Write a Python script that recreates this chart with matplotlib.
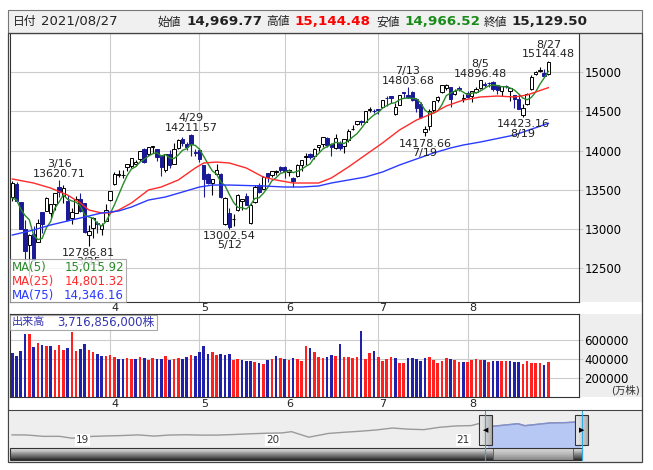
import numpy as np
import pandas as pd
import matplotlib
matplotlib.use("Agg")
import matplotlib.pyplot as plt
import matplotlib.dates as mdates
from matplotlib.patches import Rectangle

plt.rcParams['font.family'] = ['DejaVu Sans', 'Noto Sans CJK JP']

# ---- 日足データ (2021/03/01 - 2021/08/27) ----
dates = pd.bdate_range('2021-03-01', '2021-08-27')
dates = dates.drop(pd.to_datetime(['2021-04-02', '2021-05-31', '2021-07-05']))

opens = [13406, 13578, 13350, 13000, 12795, 12935, 12836, 13220, 13233, 13200, 13313, 13533,
         13420, 13362, 13144, 13205, 13388, 13326, 12920, 13008, 13076, 13002, 13104,
         13375, 13578, 13690, 13687, 13794, 13800, 13834, 13890, 14018, 13960, 14048, 14014,
         13928, 13752, 13951, 13834, 14034, 14150, 14089, 14195, 13983,
         14001, 13815, 13697, 13583, 13698, 13707, 13061, 13208, 13122, 13238, 13358, 13422,
         13075, 13344, 13563, 13511, 13715, 13682, 13723, 13787,
         13792, 13728, 13649, 13671, 13814, 13917, 13953, 13928, 14040, 14086, 14164, 14086,
         14034, 14098, 14056, 14133, 14271, 14332, 14382, 14367, 14515, 14505,
         14523, 14550, 14666, 14696, 14462, 14584, 14739, 14705, 14740, 14654, 14592, 14242,
         14318, 14512, 14646, 14742, 14793, 14812, 14714, 14796, 14657,
         14730, 14697, 14745, 14792, 14850, 14866, 14878, 14833, 14755, 14828, 14757, 14703,
         14653, 14456, 14587, 14783, 14972, 15008, 14992, 14969.77]
highs = [13609, 13599, 13350, 13119, 12941, 13036, 13128, 13220, 13410, 13323, 13460, 13620.71,
         13565, 13428, 13272, 13424, 13460, 13326, 13057, 13149, 13106, 13080, 13321,
         13489, 13721, 13752, 13751, 13830, 13901, 13885, 14000, 14034, 14041, 14062, 14025,
         13931, 13952, 14001, 14094, 14145, 14168, 14112, 14211.57, 14023,
         14029, 13815, 13717, 13641, 13828, 13718, 13412, 13264, 13192, 13446, 13379, 13460,
         13328, 13560, 13582, 13681, 13716, 13741, 13748, 13798,
         13802, 13767, 13668, 13832, 13882, 13962, 13966, 14031, 14069, 14175, 14170, 14091,
         14204, 14126, 14142, 14270, 14319, 14381, 14392, 14505, 14556, 14535,
         14533, 14646, 14700, 14698, 14605, 14707, 14744, 14803.68, 14754, 14657, 14615, 14316,
         14534, 14632, 14694, 14837, 14844, 14812, 14788, 14828, 14715,
         14756, 14762, 14810, 14896.48, 14873, 14876, 14886, 14834, 14824, 14835, 14794, 14703,
         14717, 14597, 14729, 14966, 15019, 15058, 15035, 15144.48]
lows = [13363, 13346, 12995, 12605, 12397, 12606, 12836, 12952, 13233, 13138, 13247, 13409,
        13330, 13113, 13065, 13202, 13211, 12953, 12786.81, 12889, 12945, 12922, 13104,
        13355, 13558, 13661, 13645, 13735, 13774, 13808, 13871, 13839, 13929, 13965, 13866,
        13680, 13723, 13774, 13824, 14016, 14055, 14003, 13924, 13936,
        13856, 13413, 13569, 13430, 13698, 13401, 13051, 13002.54, 13036, 13235, 13242, 13303,
        13070, 13330, 13462, 13507, 13605, 13661, 13684, 13731,
        13654, 13680, 13530, 13664, 13741, 13815, 13897, 13888, 13998, 14041, 14046, 13925,
        14017, 14010, 13970, 14114, 14255, 14324, 14323, 14365, 14489, 14484,
        14465, 14542, 14573, 14608, 14451, 14584, 14666, 14665, 14626, 14493, 14419, 14178.66,
        14266, 14490, 14613, 14727, 14766, 14551, 14701, 14759, 14622,
        14664, 14613, 14735, 14781, 14803, 14811, 14752, 14717, 14692, 14790, 14630, 14543,
        14524, 14423.16, 14577, 14774, 14962, 14995, 14942, 14966.52]
closes = [13588.83, 13358.79, 12997.75, 12723.47, 12920.15, 12609.16, 13073.82, 13068.83,
          13398.67, 13319.86, 13459.71, 13471.57, 13525.20, 13116.17, 13215.24, 13377.54,
          13227.70, 12961.89, 12977.68, 13138.73, 13059.65, 13045.39, 13246.87,
          13480.11, 13705.59, 13698.38, 13688.84, 13829.31, 13900.19, 13850.00, 13996.10,
          13857.84, 14038.76, 14052.34, 13914.77, 13786.27, 13950.22, 13818.41, 14016.81,
          14138.78, 14090.22, 14051.03, 14082.55, 13962.68,
          13895.12, 13633.50, 13582.42, 13632.84, 13752.24, 13401.86, 13389.43, 13031.68,
          13124.99, 13429.98, 13379.05, 13303.64, 13299.74, 13535.74, 13470.99, 13661.17,
          13657.17, 13738.00, 13736.28, 13748.74,
          13736.48, 13756.33, 13614.51, 13814.49, 13881.72, 13924.98, 13911.75, 14020.33,
          14069.42, 14174.14, 14072.86, 14039.68, 14161.35, 14030.38, 14141.48, 14253.27,
          14271.73, 14369.71, 14360.39, 14500.51, 14528.33, 14503.95,
          14522.38, 14639.33, 14663.64, 14665.06, 14559.79, 14701.92, 14733.24, 14677.65,
          14644.95, 14543.13, 14427.24, 14274.98, 14498.88, 14631.95, 14684.60, 14836.99,
          14840.71, 14660.58, 14762.58, 14778.26, 14672.68,
          14681.07, 14761.30, 14780.53, 14895.12, 14835.76, 14860.18, 14788.09, 14765.14,
          14816.26, 14822.90, 14793.76, 14656.18, 14525.91, 14541.79, 14714.66, 14942.65,
          14996.39, 15019.80, 14945.81, 15129.50]
# MA(5) 計算用の2月末終値
feb_closes = [13465.20, 13597.97, 13119.43, 13192.35]

# 出来高 (万株)
volumes = [460000, 435000, 484000, 663000, 663000, 526000, 568000, 547000, 537000, 537000,
           495000, 547000, 495000, 516000, 684000, 484000, 505000, 558000, 495000, 474000,
           453000, 435000, 432000,
           440000, 420000, 395000, 400000, 410000, 395000, 405000, 420000, 415000, 390000,
           415000, 400000, 400000, 430000, 390000, 400000, 410000, 405000, 425000, 440000, 430000,
           470000, 537000, 455000, 470000, 440000, 450000, 445000, 455000, 390000, 395000,
           390000, 380000, 380000, 365000, 355000, 350000, 385000, 400000, 430000, 410000,
           400000, 390000, 410000, 400000, 380000, 540000, 520000, 470000, 420000, 410000,
           420000, 440000, 430000, 558000, 420000, 420000, 410000, 420000, 695000, 400000,
           460000, 480000,
           420000, 380000, 400000, 420000, 410000, 360000, 360000, 410000, 410000, 400000,
           380000, 410000, 420000, 390000, 360000, 380000, 410000, 400000, 390000, 370000, 370000,
           370000, 390000, 400000, 390000, 390000, 370000, 380000, 380000, 380000, 380000,
           380000, 370000, 370000, 350000, 380000, 360000, 360000, 360000, 335000, 371685.6]
last_volume_shares = 3716856000

# 移動平均線 (チャートから読み取り)
ma25_days = ['03-01', '03-08', '03-12', '03-18', '03-23', '03-25', '03-30', '04-01', '04-06',
             '04-09', '04-15', '04-20', '04-26', '04-30', '05-04', '05-07', '05-12', '05-18',
             '05-24', '05-27', '06-03', '06-08', '06-11', '06-16', '06-22', '06-28', '07-02',
             '07-09', '07-15', '07-21', '07-26', '07-30', '08-05', '08-11', '08-17', '08-20', '08-27']
ma25_vals = [13637, 13586, 13522, 13433, 13331, 13242, 13204, 13204, 13242, 13331, 13497, 13535,
             13624, 13777, 13841, 13853, 13841, 13777, 13662, 13624, 13586, 13586, 13586, 13650,
             13790, 13943, 14095, 14261, 14388, 14478, 14567, 14643, 14682, 14694, 14682, 14707, 14801]
ma75_days = ['03-01', '03-08', '03-12', '03-18', '03-24', '03-30', '04-06', '04-09', '04-15',
             '04-21', '04-27', '05-03', '05-06', '05-12', '05-24', '06-01', '06-07', '06-11',
             '06-16', '06-22', '06-28', '07-02', '07-09', '07-15', '07-21', '07-27', '07-30',
             '08-05', '08-17', '08-27']
ma75_vals = [12923, 12987, 13051, 13102, 13153, 13204, 13229, 13280, 13369, 13408, 13471, 13535,
             13560, 13560, 13548, 13535, 13535, 13548, 13586, 13624, 13662, 13726, 13815, 13892,
             13968, 14032, 14070, 14108, 14197, 14346]
# 凡例の表示値
ma_names = ['MA(5)', 'MA(25)', 'MA(75)']
ma_legend = [15015.92, 14801.32, 14346.16]

# 高値・安値ラベル
ann_days = ['03-16', '03-25', '04-29', '05-12', '07-13', '07-19', '08-05', '08-19', '08-27']
ann_kind = ['high', 'low', 'high', 'low', 'high', 'low', 'high', 'low', 'high']

# ナビゲーター (月次)
nav_dates = ['2018-08-31', '2018-09-28', '2018-10-31', '2018-11-30', '2018-12-24', '2019-01-31',
             '2019-02-28', '2019-03-29', '2019-04-30', '2019-05-31', '2019-06-28', '2019-07-31',
             '2019-08-30', '2019-09-30', '2019-10-31', '2019-11-29', '2019-12-31', '2020-01-31',
             '2020-02-19', '2020-03-23', '2020-04-30', '2020-05-29', '2020-06-30', '2020-07-31',
             '2020-08-31', '2020-09-30', '2020-10-30', '2020-11-30', '2020-12-31', '2021-01-29',
             '2021-02-12', '2021-03-08', '2021-04-29', '2021-05-12', '2021-06-30', '2021-07-30',
             '2021-08-27']
nav_vals = [8110, 8046, 7305, 7331, 6333, 7281, 7533, 7729, 8095, 7453, 8006, 8175, 7963, 7999,
            8292, 8665, 8972, 9150, 9817, 6860, 8889, 9489, 10058, 10745, 11775, 11167, 10911,
            12198, 12888, 13070, 14095, 12609, 14082, 13031, 14503, 14672, 15129]

price_ticks = [12500, 13000, 13500, 14000, 14500, 15000]
vol_ticks = [200000, 400000, 600000]
month_labels = ['4', '5', '6', '7', '8']

W, H = 653, 470
fig = plt.figure(figsize=(W / 100, H / 100), dpi=100)


def px_axes(x0, y0, x1, y1, **kw):
    return fig.add_axes([x0 / W, 1 - y1 / H, (x1 - x0) / W, (y1 - y0) / H], **kw)


bg = px_axes(0, 0, W, H, zorder=0)
bg.set_xlim(0, W)
bg.set_ylim(H, 0)
bg.axis('off')
ov = px_axes(0, 0, W, H, zorder=10)
ov.axis('off')

GRID = '#cccccc'
DOWN = '#1a1a96'
n = len(dates)
x = np.arange(n)
o, h, l, c = map(np.array, (opens, highs, lows, closes))
day_idx = {d.strftime('%m-%d'): i for i, d in enumerate(dates)}
month_pos = [i for i in range(1, n) if dates[i].month != dates[i - 1].month]

# 右側の灰色領域
bg.add_patch(Rectangle((579, 33), 63, 269, facecolor='#eeeeee', edgecolor='none'))
bg.add_patch(Rectangle((579, 314), 63, 83, facecolor='#eeeeee', edgecolor='none'))
bg.add_patch(Rectangle((10, 410), 632, 52, facecolor='#eeeeee', edgecolor='none'))

# ---- ローソク足 ----
ax = px_axes(10, 33, 579, 302, zorder=2)
ax.set_xlim(-0.54, 133.2)
ax.set_ylim(12070, 15497)
for t in price_ticks:
    ax.axhline(t, color=GRID, lw=0.8, zorder=0)
for m in month_pos:
    ax.axvline(m, color=GRID, lw=0.8, zorder=0)

up = c >= o
ax.vlines(x[up], l[up], h[up], color='black', lw=0.8, zorder=3)
ax.vlines(x[~up], l[~up], h[~up], color=DOWN, lw=0.8, zorder=3)
ax.bar(x[up], (c - o)[up], bottom=o[up], width=0.8, facecolor='white',
       edgecolor='black', lw=0.7, zorder=4)
ax.bar(x[~up], (o - c)[~up], bottom=c[~up], width=0.8, facecolor=DOWN,
       edgecolor=DOWN, lw=0.7, zorder=4)

ma5 = pd.Series(feb_closes + closes).rolling(5).mean().values[len(feb_closes):]
ma_cols = ['#2a8a2a', '#ff2a2a', '#2a3aff']
ax.plot(x, ma5, color=ma_cols[0], lw=1.0, zorder=5)
ax.plot([day_idx[d] for d in ma25_days], ma25_vals, color=ma_cols[1], lw=1.0, zorder=5)
ax.plot([day_idx[d] for d in ma75_days], ma75_vals, color=ma_cols[2], lw=1.0, zorder=5)

for d, k in zip(ann_days, ann_kind):
    i = day_idx[d]
    lab = '%d/%d' % (dates[i].month, dates[i].day)
    if k == 'high':
        ax.annotate('%s\n%.2f' % (lab, h[i]), (i, h[i]), xytext=(0, 1), textcoords='offset points',
                    ha='center', va='bottom', fontsize=8, linespacing=0.95, color='#222222', zorder=6)
    else:
        ax.annotate('%.2f\n%s' % (l[i], lab), (i, l[i]), xytext=(0, -1.5), textcoords='offset points',
                    ha='center', va='top', fontsize=8, linespacing=0.95, color='#222222', zorder=6)

ax.yaxis.tick_right()
ax.set_yticks(price_ticks)
ax.set_yticklabels([str(t) for t in price_ticks])
ax.tick_params(axis='y', length=3, width=0.8, color=GRID, pad=1, labelsize=8.5)
ax.set_xticks([])
for s in ax.spines.values():
    s.set_color('#333333')
    s.set_linewidth(0.8)

# ---- 出来高 ----
vax = px_axes(10, 314, 579, 397, zorder=2)
vax.set_xlim(-0.54, 133.2)
vax.set_ylim(0, 873700)
for t in vol_ticks:
    vax.axhline(t, color=GRID, lw=0.8, zorder=0)
for m in month_pos:
    vax.axvline(m, color=GRID, lw=0.8, zorder=0)
prev = np.concatenate([[np.inf], c[:-1]])
vcol = np.where(c > prev, '#ff2020', '#2020aa')
vax.bar(x, volumes, width=0.62, color=vcol, zorder=3)
vax.yaxis.tick_right()
vax.set_yticks(vol_ticks)
vax.set_yticklabels([str(t) for t in vol_ticks])
vax.tick_params(axis='y', length=3, width=0.8, color=GRID, pad=1, labelsize=8.5)
vax.set_xticks([])
for s in vax.spines.values():
    s.set_color('#333333')
    s.set_linewidth(0.8)
ov.text(640, 390, '(万株)', ha='right', va='center', fontsize=7.5, color='#333333')

# 月ラベル
for a, dy in ((ax, -4.6), (vax, -5.0)):
    for m, lab in zip(month_pos, month_labels):
        a.annotate(lab, (m, 0), xycoords=('data', 'axes fraction'), xytext=(1, dy),
                   textcoords='offset points', ha='left', va='center', fontsize=8,
                   color='#222222', annotation_clip=False)

# ---- ナビゲーター ----
nax = px_axes(10, 410, 582, 448, zorder=2)
nd = mdates.date2num(pd.to_datetime(nav_dates))
nv = np.array(nav_vals)
nax.set_xlim(mdates.date2num(pd.Timestamp('2018-08-27')), mdates.date2num(pd.Timestamp('2021-08-30')))
nax.set_ylim(1070, 21440)
nax.set_facecolor('#eeeeee')
sel_start = mdates.date2num(dates[0])
sel = nd >= sel_start
sx = np.concatenate([[sel_start], nd[sel]])
sy = np.concatenate([[np.interp(sel_start, nd, nv)], nv[sel]])
nax.fill_between(sx, sy, 1070, color='#b8c8f5', lw=0)
nax.plot(nd, nv, color='#9a9a9a', lw=1.0)
nax.plot(sx, sy, color='#8090d0', lw=1.0)
for yr in ['2019', '2020', '2021']:
    nax.text(mdates.date2num(pd.Timestamp(yr + '-01-01')), 5200, yr[2:], fontsize=7.5, ha='left',
             va='center', color='#333333',
             bbox=dict(facecolor='white', edgecolor='none', pad=0.6))
nax.set_xticks([])
nax.set_yticks([])
for s in nax.spines.values():
    s.set_visible(False)

# スクロールバー
grad = np.linspace(0, 1, 20).reshape(-1, 1)
ov.imshow(grad, extent=(10, 582, 460, 448), cmap='Greys', vmin=-0.3, vmax=1.2, aspect='auto')
ov.imshow(grad, extent=(493, 573, 460, 448), cmap='Greys', vmin=-0.8, vmax=2.5, aspect='auto')
ov.add_patch(Rectangle((493, 448), 80, 12, facecolor='none', edgecolor='#555555', lw=0.6))
ov.add_patch(Rectangle((10, 448), 572, 12, facecolor='none', edgecolor='#333333', lw=0.8))

# ハンドル
for hx, mark in ((479, '◀'), (575, '▶')):
    ov.imshow(grad.T, extent=(hx, hx + 13, 445, 415), cmap='Greys', vmin=-0.5, vmax=3.0, aspect='auto')
    ov.add_patch(Rectangle((hx, 415), 13, 30, facecolor='none', edgecolor='#333333', lw=0.8))
    ov.text(hx + 6.5, 430, mark, ha='center', va='center', fontsize=5, color='black')
for lx in (485, 582):
    ov.plot([lx, lx], [410, 460], color='#33aadd', lw=0.8)

# ---- 凡例 ----
ov.add_patch(Rectangle((10, 259), 116, 43, facecolor='white', alpha=0.8, edgecolor='#999999', lw=0.8))
for k, (nm, v, col) in enumerate(zip(ma_names, ma_legend, ma_cols)):
    yy = 267 + 14 * k
    ov.text(12, yy, nm, ha='left', va='center', fontsize=8.5, color=col)
    ov.text(124, yy, '{:,.2f}'.format(v), ha='right', va='center', fontsize=8.5, color=col)

ov.add_patch(Rectangle((10, 315), 147, 15, facecolor='white', alpha=0.85, edgecolor='#999999', lw=0.8))
ov.text(12, 322.5, '出来高', ha='left', va='center', fontsize=8, color='#3535b0')
ov.text(57, 322.5, '{:,}株'.format(last_volume_shares), ha='left', va='center', fontsize=8.5,
        color='#3535b0')

# ---- ヘッダー ----
ov.add_patch(Rectangle((8, 10), 634, 23, facecolor='#f0f0f0', edgecolor='#777777', lw=0.8))
ov.add_patch(Rectangle((8, 33), 634, 429, facecolor='none', edgecolor='#444444', lw=0.9))
ov.plot([8, 642], [410, 410], color='#444444', lw=0.8)
ov.text(13, 21.5, '日付', ha='left', va='center', fontsize=8.5, color='#222222')
ov.text(41, 21.5, dates[-1].strftime('%Y/%m/%d'), ha='left', va='center', fontsize=9.5, color='#222222')
head = [('始値', 158, '{:,.2f}'.format(o[-1]), 186, '#222222'),
        ('高値', 266, '{:,.2f}'.format(h[-1]), 294, '#ff0000'),
        ('安値', 376, '{:,.2f}'.format(l[-1]), 404, '#1a8a1a'),
        ('終値', 484, '{:,.2f}'.format(c[-1]), 511, '#222222')]
for lab, lx, val, vx, col in head:
    ov.text(lx, 22, lab, ha='left', va='center', fontsize=8.5, color='#222222')
    ov.text(vx, 21.5, val, ha='left', va='center', fontsize=9.7, fontweight='bold', color=col)

ov.set_xlim(0, W)
ov.set_ylim(H, 0)
fig.savefig('out.png', dpi=100)
